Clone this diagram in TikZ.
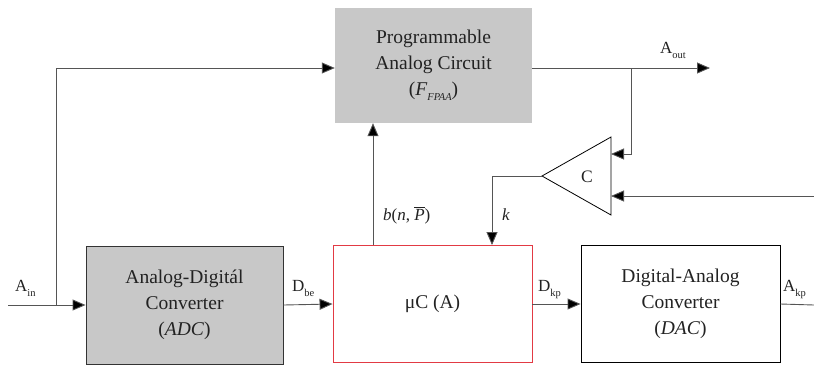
\documentclass[tikz,border=0pt]{standalone}
\usepackage{fontspec}
\setmainfont{Liberation Serif}
\usetikzlibrary{arrows.meta}
\definecolor{boxgray}{HTML}{C8C8C8}
\definecolor{linegray}{HTML}{555555}
\definecolor{txt}{HTML}{222222}
\definecolor{ucred}{HTML}{E23A44}
\newcommand{\lblsub}[1]{\raisebox{-5pt}{\fontsize{10.5}{10.5}\selectfont #1}}
\tikzset{
  blk/.style={rectangle, inner sep=0pt, align=center, text=txt,
    font=\fontsize{19.5}{26}\selectfont},
  lbl/.style={inner sep=0pt, anchor=base west, text=txt,
    font=\fontsize{17}{18}\selectfont},
  conn/.style={draw=linegray, line width=0.9pt},
  arr/.style={conn, -{Triangle[length=13pt,width=11pt,fill=black]}}
}
\begin{document}
\begin{tikzpicture}[x=1pt,y=-1pt]
\useasboundingbox (0,0) rectangle (814,365);
% blocks
\node[blk, fill=boxgray, minimum width=197pt, minimum height=115pt] (fpaa) at (433.5,65.5)
  {Programmable\\Analog Circuit\\(\textit{F}\lblsub{\textit{FPAA}})};
\node[blk, fill=boxgray, draw=black!80, line width=0.9pt, minimum width=197pt, minimum height=118pt] (adc) at (184.5,305)
  {Analog-Digitál\\Converter\\(\textit{ADC})};
\node[blk, draw=ucred, line width=0.9pt, minimum width=199pt, minimum height=117pt] (uc) at (432.5,304)
  {μC (A)};
\node[blk, draw=black, line width=0.9pt, minimum width=199pt, minimum height=117pt] (dac) at (680.5,304)
  {Digital-Analog\\Converter\\(\textit{DAC})};
% comparator
\coordinate (cmpA) at (542,176);
\coordinate (cmpT) at (611,137);
\coordinate (cmpB) at (611,215);
\draw[black, line width=0.8pt] (cmpA) -- (cmpT) -- (cmpB) -- cycle;
\node[lbl, anchor=center, font=\fontsize{17.5}{18}\selectfont] (cmpC) at (587,177) {C};
\coordinate (cmpIn1) at (611,154);
\coordinate (cmpIn2) at (611,196);
% helper coordinates
\coordinate (inL) at (8,305);
\coordinate (br) at (56,305);
\coordinate (lev) at (0,68);
\coordinate (bx) at (373,0);
\coordinate (kx) at (492,0);
\coordinate (aoutEnd) at (710,68);
\coordinate (tap) at (631,68);
\coordinate (rin) at (814,196);
\coordinate (akpEnd) at (814,305);
% connectors
\draw[arr] (inL) -- (adc.west);
\draw[arr] (br) |- (fpaa.west |- lev);
\draw[arr] (fpaa.east |- lev) -- (aoutEnd);
\draw[arr] (tap) |- (cmpIn1);
\draw[arr] (rin) -- (cmpIn2);
\draw[arr] (cmpA) -| (kx |- uc.north);
\draw[arr] (bx |- uc.north) -- (bx |- fpaa.south);
\draw[arr] (adc.east) -- (uc.west);
\draw[arr] (uc.east) -- (dac.west);
\draw[conn] (dac.east) -- (akpEnd);
% labels
\node[lbl] (lAin) at (15,291) {A\lblsub{in}};
\node[lbl] (lDbe) at (292,291) {D\lblsub{be}};
\node[lbl] (lDkp) at (538,291) {D\lblsub{kp}};
\node[lbl] (lAkp) at (783,291) {A\lblsub{kp}};
\node[lbl] (lAout) at (660,53) {A\lblsub{out}};
\node[lbl] (lb) at (383,220) {\textit{b}(\textit{n}, $\overline{\mbox{\textit{P}}}$)};
\node[lbl] (lk) at (502,220) {\textit{k}};
\end{tikzpicture}
\end{document}
